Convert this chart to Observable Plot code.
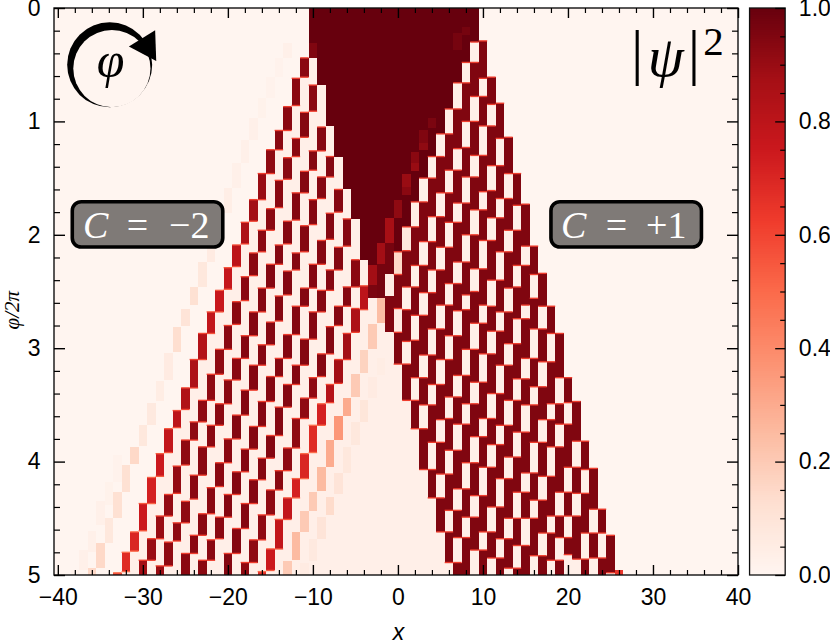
<!DOCTYPE html>
<html><head><meta charset="utf-8">
<style>html,body{margin:0;padding:0;background:#fff}svg{display:block}</style>
<script src="https://cdn.jsdelivr.net/npm/d3@7"></script>
<script src="https://cdn.jsdelivr.net/npm/@observablehq/plot@0.6"></script>
</head><body><div id="c"></div>
<script>
// All phi readings below are in hundredths of phi/2pi.
const xMajor=[-40,-30,-20,-10,0,10,20,30,40];
const xMinor=[-38,-36,-34,-32,-28,-26,-24,-22,-18,-16,-14,-12,-8,-6,-4,-2,2,4,6,8,12,14,16,18,22,24,26,28,32,34,36,38];
const yMajor=[0,1,2,3,4,5];
const yMinor=[.2,.4,.6,.8,1.2,1.4,1.6,1.8,2.2,2.4,2.6,2.8,3.2,3.4,3.6,3.8,4.2,4.4,4.6,4.8];
const barMajor=[0,.2,.4,.6,.8,1];
const barMinor=[.05,.1,.15,.25,.3,.35,.45,.5,.55,.65,.7,.75,.85,.9,.95];
const redsStops=[0,.125,.25,.375,.5,.625,.75,.875,1];
const redsColors=["#fff5f0","#fee0d2","#fcbba1","#fc9272","#fb6a4a","#ef3b2c","#cb181d","#a50f15","#67000d"];

// saturated wedge: column -> phi where it stops
const coreX  =[-10,-9,-8,-7,-6,-5,-4,-3,-2,-1,0,1,2,3,4,5,6,7,8,9];
const coreEnd=[ 44,68,104,131,160,186,222,227,207,185,215,193,171,150,131,111,89,66,48,30];
// washed-out floor under the wedge
const floorX   =[-10,-9,-8,-7,-6,-5,-4,-3,-2,-1,0,1,2,3,4,5,6];
const floorFrom=[44,68,104,131,160,186,222,256,256,286,314,346,371,407,432,462,489];

// C=+1 edge: columns, dark span, and light gaps inside it
const rightX=[0,1,2,3,4,5,6,7,8,9,10,11,12,13,14,15,16,17,18,19,20,21,22,23,24,25];
const rightFrom=[0,0,0,0,0,0,0,0,0,0,29,61,84,114,146,173,210,234,263,287,326,347,382,406,442,465];
const rightTo=[314,346,371,407,432,462,489,500,500,500,500,500,500,500,500,500,500,500,500,500,500,500,500,500,500,498];
const rightGaps=[
 [215,235,265,286],
 [193,214,246,266,294,314],
 [171,193,227,246,271,293,326,346],
 [150,171,206,227,251,271,306,326,350,371],
 [131,150,184,206,231,251,283,306,332,350,383,407],
 [111,131,163,184,211,231,262,283,310,332,363,383,411,432],
 [89,111,143,163,189,211,243,262,289,310,343,362,390,411,443,462],
 [66,89,124,143,172,189,224,243,267,289,324,343,367,390,424,443,467,489],
 [48,66,100,123,149,172,200,224,253,266,301,324,349,367,401,424,449,467],
 [30,48,78,100,130,149,178,200,230,250,278,301,330,349,378,401,430,449,478,500],
 [62,78,104,130,162,178,205,230,262,278,305,330,362,378,405,430,462,478],
 [85,104,139,161,185,205,240,263,285,305,340,362,385,405,440,462,485,500],
 [115,139,168,185,215,240,268,285,315,340,368,385,415,440,468,485],
 [146,168,196,215,247,268,296,315,346,368,396,415,450,468,494,500],
 [174,196,227,246,274,296,327,346,374,396,427,450,474,494],
 [210,227,262,274,309,327,350,374,410,427,450,474],
 [235,256,283,309,334,350,383,410,434,450,483,500],
 [263,283,312,334,363,383,413,434,463,483],
 [287,312,349,363,387,413,448,463,487,500],
 [326,349,367,387,427,448,467,487],
 [348,367,405,427,448,467,482,500],
 [382,405,428,448,486,500],
 [407,428,463,486],
 [442,463,485,500],
 [463,485],
 []
];

// C=-2 edge: each chain starts at a column and steps one site left per entry: start,end,value
const chain1Start=-11;
const chain1=[[44,61,.93],[62,86,.93],[87,108,.93],[108,125,.93],[125,146,.92],[146,169,.9],[169,188,.88],[189,208,.85],[209,228,.8],[229,248,.77],[249,268,.76],[268,287,.78],[287,310,.83],[310,335,.85],[335,354,.84],[355,370,.8],[371,392,.78],[393,413,.75],[414,437,.72],[437,461,.75],[462,479,.7],[480,497,.68],[498,500,.62]];
const chain2Start=-10;
const chain2=[[68,91,.93],[92,114,.94],[115,131,.93],[132,151,.93],[152,176,.93],[177,196,.93],[196,215,.93],[216,236,.93],[237,258,.93],[259,279,.93],[280,301,.93],[301,323,.92],[323,346,.92],[346,365,.92],[365,381,.92],[381,403,.92],[404,428,.91],[429,448,.91],[448,468,.9],[468,487,.9],[487,500,.88]];
const chain3Start=-9;
const chain3=[[105,126,.94],[126,143,.94],[144,163,.94],[163,187,.94],[188,208,.94],[209,226,.94],[226,247,.94],[247,268,.94],[268,289,.94],[289,309,.94],[309,328,.93],[328,349,.93],[349,368,.93],[368,387,.93],[387,412,.93],[412,433,.93],[435,454,.92],[454,470,.92],[471,492,.92],[492,500,.9]];
const chain4Start=-8;
const chain4=[[131,149,.94],[149,168,.94],[169,191,.94],[192,215,.94],[216,231,.94],[232,253,.94],[254,276,.94],[277,297,.94],[297,315,.94],[315,337,.94],[337,359,.94],[359,380,.94],[380,401,.93],[401,422,.93],[423,446,.93],[446,465,.93],[465,481,.93],[481,500,.93]];
const chain5Start=-7;
const chain5=[[160,180,.94],[181,204,.94],[205,226,.94],[226,247,.94],[247,263,.94],[263,288,.94],[288,309,.94],[309,325,.94],[325,347,.94],[347,369,.94],[369,389,.94],[389,409,.94],[409,429,.94],[429,449,.94],[449,468,.93],[469,487,.93],[487,500,.93]];
const chain6Start=-6;
const chain6=[[186,210,.94],[211,231,.94],[231,249,.94],[249,268,.94],[268,292,.94],[292,315,.94],[315,332,.94],[332,352,.94],[352,377,.94],[377,397,.94],[397,416,.94],[416,437,.94],[437,459,.94],[459,481,.94],[481,500,.94]];
const chain7Start=-5;
const chain7=[[222,246,.93],[246,263,.94],[263,280,.94],[281,305,.94],[305,325,.94],[326,344,.92],[344,362,.92],[362,388,.92],[388,408,.92],[408,425,.93],[425,447,.92],[447,469,.92],[469,489,.92],[489,500,.92]];
const chain8Start=-4;
const chain8=[[245,266,.8],[265,286,.85],[287,310,.88],[310,331,.88],[332,348,.82],[349,368,.72],[368,392,.68],[393,415,.7],[415,432,.72],[432,451,.78],[451,477,.78],[477,496,.75],[497,500,.68]];
const chainAStart=-2;
const chainA=[[256,278,.24],[279,301,.2],[302,322,.17],[323,343,.2],[344,360,.3],[360,381,.36],[381,405,.3],[405,426,.25],[427,444,.2],[444,462,.2],[462,487,.25],[488,500,.2]];
const chainBStart=-2;
const chainB=[[309,324,.05],[325,344,.06],[346,365,.09],[365,385,.08],[387,410,.08],[410,429,.1],[431,447,.14],[449,468,.1],[468,488,.07],[489,500,.06]];
const chain0Start=-13;
const chain0=[[31,44,.03],[44,61,.015],[61,79,.015],[79,97,.02],[97,116,.03],[116,137,.03],[137,159,.03],[159,181,.04],[181,202,.05],[202,224,.06],[224,246,.08],[246,262,.12],[265,280,.1],[281,303,.13],[304,328,.06],[329,347,.05],[348,368,.07],[368,386,.08],[387,402,.15],[403,427,.12],[427,450,.12],[450,472,.08],[472,494,.15],[494,500,.15]];
const chainFaintStart=-33;
const chainFaint=[[394,418,.015],[418,438,.02],[435,456,.03],[461,480,.03],[478,496,.03],[496,500,.02]];

// small tweaks: column, start, end, value
const patches=[[-10,31,44,.95],[8,17,24,.97],[7,22,37,.97],[0,169,185,.92],[1,146,158,.9],[1,158,165,.93],[2,127,137,.93],[2,137,144,.9],[3,108,119,.95],[3,119,125,.92],[4,97,106,.96],
 [-1,185,207,.87],[-1,207,235,.97],[-1,235,254,.06],[-1,254,286,.95],[-2,207,226,.88],[-2,226,256,.97],[-3,227,244,.88],[-3,244,256,.96],[26,496,500,.65]];
const tints=[[0,215,235,.15],[0,265,286,.06],[1,193,214,.08],[2,171,193,.05]];

const cells=[], edges=[];
const add=(x,s,e,v)=>cells.push({x,s:s/100,e:e/100,v});
const edge=(x,p,v)=>edges.push({x,s:(p-.6)/100,e:(p+.6)/100,v});
cells.push({x:null,x1:-40.45,x2:40,s:0,e:5,v:0});
chain1.forEach((c,i)=>add(chain1Start-i,c[0],500,.035));
floorX.forEach((x,i)=>add(x,floorFrom[i],500,.035));
rightX.forEach((x,i)=>{
  add(x,rightFrom[i],rightTo[i],.95);
  if(rightFrom[i]>0)edge(x,rightFrom[i],.62);
  if(rightTo[i]<500)edge(x,rightTo[i],.62);
  const g=rightGaps[i];
  for(let j=0;j<g.length;j+=2){add(x,g[j],g[j+1],.035);edge(x,g[j],.62);if(g[j+1]<500)edge(x,g[j+1],.62);}
});
coreX.forEach((x,i)=>add(x,0,coreEnd[i],1));
[[chainFaintStart,chainFaint],[chain0Start,chain0],[chainBStart,chainB],[chainAStart,chainA]].forEach(([x0,ch])=>ch.forEach((c,i)=>add(x0-i,c[0],c[1],c[2])));
[[chain1Start,chain1],[chain2Start,chain2],[chain3Start,chain3],[chain4Start,chain4],[chain5Start,chain5],[chain6Start,chain6],[chain7Start,chain7],[chain8Start,chain8]].forEach(([x0,ch])=>ch.forEach((c,i)=>{
  add(x0-i,c[0],c[1],c[2]);
  const ev=Math.min(.62,c[2]*.72);
  edge(x0-i,c[0],ev);if(c[1]<500)edge(x0-i,c[1],ev);
}));
patches.forEach(p=>add(...p));
tints.forEach(p=>add(...p));

const ramp=d3.range(256).map(i=>({a:i/256,b:(i+1)/256}));
const rx=d=>d.x==null?d.x1:d.x-.5, rx2=d=>d.x==null?d.x2:d.x+.5;
const L=-40.45,R=40,BL=41.36,BR=45.55,tx=1/8.5,ty=1/113.4;
const sans="Liberation Sans",serif="Liberation Serif";
const note=(x,y,text,o={})=>Plot.text([0],{x:()=>x,y:()=>y,text:()=>text,fontFamily:serif,textAnchor:"middle",lineAnchor:"middle",...o});

const plot=Plot.plot({
  width:830,height:643,marginLeft:54,marginRight:92,marginTop:8,marginBottom:68,
  style:{background:"#fff",overflow:"visible"},
  x:{domain:[L,R],axis:null},
  y:{domain:[0,5],reverse:true,axis:null},
  color:{type:"linear",domain:redsStops,range:redsColors,interpolate:"rgb"},
  marks:[
    Plot.rect(cells,{x1:rx,x2:rx2,y1:"s",y2:"e",fill:"v",shapeRendering:"crispEdges"}),
    Plot.rect(edges,{x1:d=>d.x-.5,x2:d=>d.x+.5,y1:"s",y2:"e",fill:"v"}),
    // colour bar
    Plot.rect(ramp,{x1:BL,x2:BR,y1:d=>5*(1-d.a),y2:d=>5*(1-d.b),fill:d=>(d.a+d.b)/2,shapeRendering:"crispEdges"}),
    Plot.rect([0],{x1:BL,x2:BR,y1:0,y2:5,stroke:"#111",strokeWidth:1.3,fill:"none"}),
    Plot.ruleY(barMajor,{y:d=>5*(1-d),x1:BR-10*tx,x2:BR,stroke:"#000",strokeWidth:1.3}),
    Plot.ruleY(barMinor,{y:d=>5*(1-d),x1:BR-5*tx,x2:BR,stroke:"#000",strokeWidth:1.2}),
    Plot.text(barMajor,{x:()=>47.1,y:d=>5*(1-d),text:d=>d.toFixed(1),textAnchor:"start",fontFamily:sans,fontSize:23,lineAnchor:"middle"}),
    // frame and ticks
    Plot.rect([0],{x1:L,x2:R,y1:0,y2:5,stroke:"#111",strokeWidth:1.4,fill:"none"}),
    Plot.ruleX(xMajor,{x:d=>d,y1:5,y2:5-10*ty,stroke:"#000",strokeWidth:1.4}),
    Plot.ruleX(xMajor,{x:d=>d,y1:0,y2:10*ty,stroke:"#000",strokeWidth:1.4}),
    Plot.ruleX(xMinor,{x:d=>d,y1:5,y2:5-5*ty,stroke:"#000",strokeWidth:1.2}),
    Plot.ruleX(xMinor,{x:d=>d,y1:0,y2:5*ty,stroke:"#000",strokeWidth:1.2}),
    Plot.ruleY(yMajor,{y:d=>d,x1:L,x2:L+11*tx,stroke:"#000",strokeWidth:1.4}),
    Plot.ruleY(yMajor,{y:d=>d,x1:R-11*tx,x2:R,stroke:"#000",strokeWidth:1.4}),
    Plot.ruleY(yMinor,{y:d=>d,x1:L,x2:L+6*tx,stroke:"#000",strokeWidth:1.2}),
    Plot.ruleY(yMinor,{y:d=>d,x1:R-6*tx,x2:R,stroke:"#000",strokeWidth:1.2}),
    Plot.axisX(xMajor,{anchor:"bottom",tickSize:0,tickPadding:13,fontSize:23,fontFamily:sans,label:null,tickFormat:d=>String(d).replace("-","\u2212")}),
    Plot.axisY(yMajor,{anchor:"left",tickSize:0,tickPadding:14,fontSize:23,fontFamily:sans,label:null,tickFormat:d=>String(d)}),
    note(0,5.5,"x",{fontFamily:sans,fontStyle:"italic",fontSize:23}),
    note(-45.4,2.66,"\u03c6/2\u03c0",{fontFamily:serif,fontStyle:"italic",fontSize:21,rotate:-90}),
    // phi rotation icon
    Plot.dot([0],{x:()=>-33.96,y:()=>.497,r:42.5,fill:"#000"}),
    Plot.dot([0],{x:()=>-33.7,y:()=>.53,r:38.6,fill:"#fff5f0"}),
    Plot.dot([0],{x:()=>-29.6,y:()=>.33,r:11.5,fill:"#000",symbol:"triangle",rotate:148}),
    note(-33.85,.46,"\u03c6",{fontStyle:"italic",fontSize:50}),
    // |psi|^2
    note(28.1,.39,"|",{fontSize:62}),
    note(31.45,.43,"\u03c8",{fontStyle:"italic",fontSize:58}),
    note(34.75,.39,"|",{fontSize:62}),
    note(37.06,.29,"2",{fontSize:41}),
    // Chern labels
    Plot.rect([0],{x1:-38.3,x2:-20.6,y1:1.708,y2:2.108,rx:9,fill:"#7f7a77",stroke:"#000",strokeWidth:3.6}),
    Plot.rect([0],{x1:18,x2:35.7,y1:1.708,y2:2.108,rx:9,fill:"#7f7a77",stroke:"#000",strokeWidth:3.6}),
    note(-35.6,1.915,"C",{fill:"#fff",fontStyle:"italic",fontSize:38}),
    note(-30.7,1.915,"=",{fill:"#fff",fontSize:38}),
    note(-24.6,1.915,"\u22122",{fill:"#fff",fontSize:38}),
    note(20.6,1.915,"C",{fill:"#fff",fontStyle:"italic",fontSize:38}),
    note(25.66,1.915,"=",{fill:"#fff",fontSize:38}),
    note(31.5,1.915,"+1",{fill:"#fff",fontSize:38})
  ]
});
document.getElementById("c").appendChild(plot);
</script></body></html>
